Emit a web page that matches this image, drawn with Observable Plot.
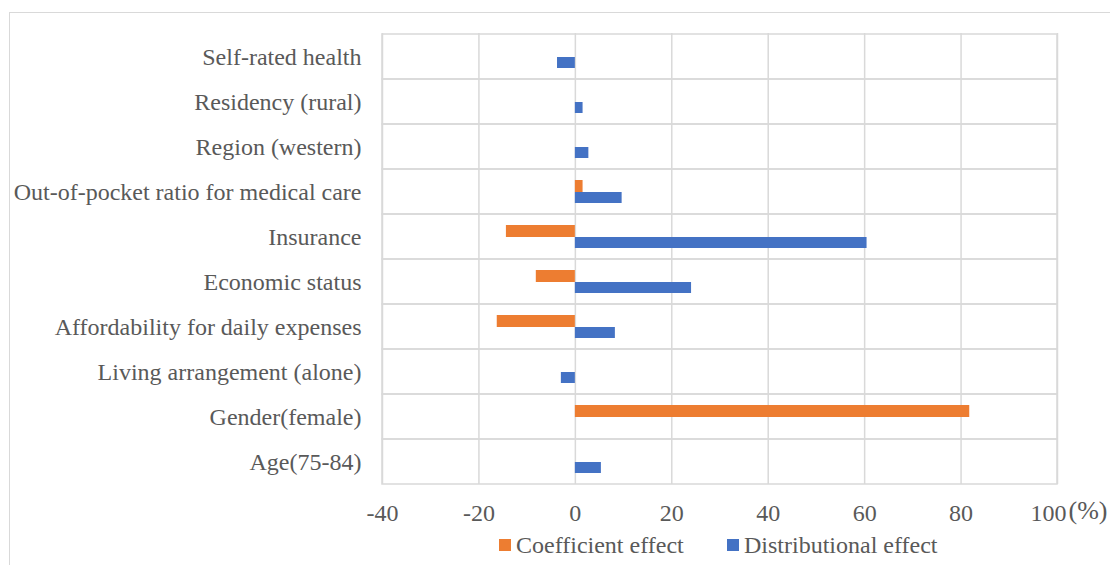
<!DOCTYPE html>
<html>
<head>
<meta charset="utf-8">
<script src="https://cdn.jsdelivr.net/npm/d3@7"></script>
<script src="https://cdn.jsdelivr.net/npm/@observablehq/plot@0.6"></script>
<style>
  html, body { margin: 0; padding: 0; background: #fff; }
  #wrap { position: relative; width: 1110px; height: 565px; overflow: hidden; font-family: "Liberation Serif", "Times New Roman", serif; color: #595959; }
  #border { position: absolute; left: 9px; top: 12px; width: 1300px; height: 700px; border: 1.5px solid #d9d9d9; box-sizing: border-box; }
  #chart { position: absolute; left: 0; top: 0; }
  .leg { position: absolute; top: 531px; font-size: 24px; line-height: 28px; white-space: nowrap; display: flex; align-items: center; }
  .sw { display: inline-block; width: 12px; height: 12px; margin-right: 5px; }
</style>
</head>
<body>
<div id="wrap">
  <div id="border"></div>
  <div id="chart"></div>
  <div class="leg" style="left:499px"><span class="sw" style="background:#ED7D31"></span>Coefficient effect</div>
  <div class="leg" style="left:727px"><span class="sw" style="background:#4472C4"></span>Distributional effect</div>
</div>
<script>
const categories = [
  "Self-rated health",
  "Residency (rural)",
  "Region (western)",
  "Out-of-pocket ratio for medical care",
  "Insurance",
  "Economic status",
  "Affordability for daily expenses",
  "Living arrangement (alone)",
  "Gender(female)",
  "Age(75-84)"
];
const coefficientEffect =    [0,    0,   0,   1.6, -14.3, -8.1, -16.2,  0,   81.8, 0];
const distributionalEffect = [-3.7, 1.6, 2.8, 9.7,  60.5, 24.1,  8.3, -2.9,  0,   5.4];
const xDomain = [-40, 100];
const xTicks = [-40, -20, 0, 20, 40, 60, 80, 100];
const unitLabel = ["(%)"];

const coefData = categories.map((c, i) => ({category: c, value: coefficientEffect[i]}));
const distData = categories.map((c, i) => ({category: c, value: distributionalEffect[i]}));
const lastTick = [xTicks[xTicks.length - 1]];

const grid = "#d9d9d9";

const chart = Plot.plot({
  width: 1110,
  height: 530,
  marginLeft: 382,
  marginRight: 53,
  marginTop: 33,
  marginBottom: 46,
  style: {
    fontFamily: "'Liberation Serif', 'Times New Roman', serif",
    fontSize: "24px",
    color: "#595959",
    background: "transparent",
    overflow: "visible"
  },
  x: {domain: xDomain, ticks: xTicks, tickSize: 0, tickPadding: 19, label: null,
      tickFormat: d => (d === lastTick[0] ? "" : String(d))},
  y: {domain: categories, padding: 0, tickSize: 0, tickPadding: 21, label: null},
  marks: [
    Plot.ruleX(xTicks, {x: d => d, stroke: grid, strokeWidth: 1.5}),
    Plot.barX(categories, {y: d => d, x1: xDomain[0], x2: xDomain[1], fill: "none", stroke: grid, strokeWidth: 1.5}),
    Plot.barX(coefData, {y: "category", x1: 0, x2: "value", fill: "#ED7D31", insetTop: 11, insetBottom: 22}),
    Plot.barX(distData, {y: "category", x1: 0, x2: "value", fill: "#4472C4", insetTop: 23, insetBottom: 11}),
    Plot.text(lastTick, {x: d => d, frameAnchor: "bottom", text: d => String(d), dx: 9, dy: 19, lineAnchor: "top", textAnchor: "end", fontSize: 24, fill: "#595959"}),
    Plot.text(unitLabel, {x: () => xDomain[1], frameAnchor: "bottom", text: d => d, dx: 11, dy: 16, lineAnchor: "top", textAnchor: "start", fontSize: 26, fill: "#595959"})
  ]
});
document.getElementById("chart").appendChild(chart);
</script>
</body>
</html>
